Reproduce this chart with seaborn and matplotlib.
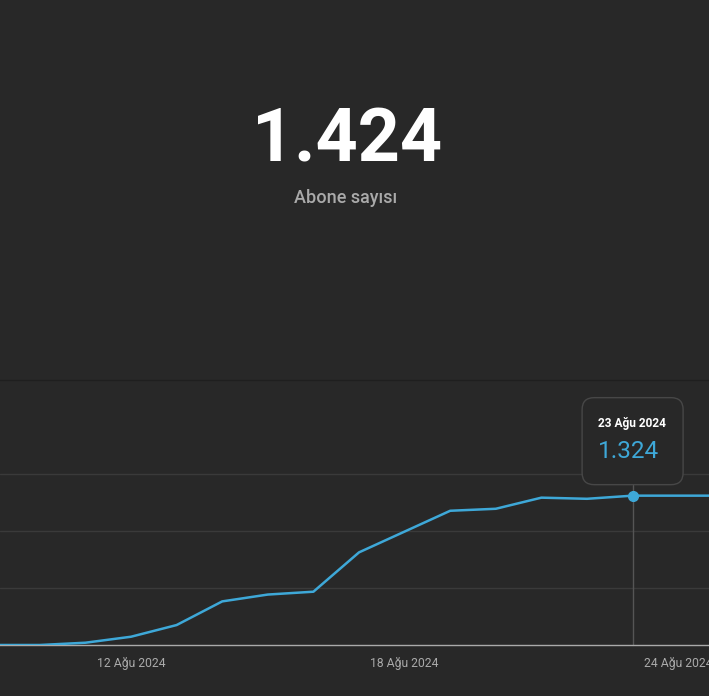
import pandas as pd
import matplotlib.pyplot as plt
import matplotlib.dates as mdates
from matplotlib.patches import FancyBboxPatch
import seaborn as sns

# Data: daily subscriber count
dates = pd.date_range("2024-08-09", "2024-08-25", freq="D")
subs = [800, 800, 808, 829, 870, 953, 977, 987, 1125, 1198,
        1271, 1278, 1317, 1313, 1324, 1324, 1324]
total_subs = "1.424"
label = "Abone sayısı"
tick_days = ["2024-08-12", "2024-08-18", "2024-08-24"]
hover_day = "2024-08-23"
months_tr = ["Oca", "Şub", "Mar", "Nis", "May", "Haz",
             "Tem", "Ağu", "Eyl", "Eki", "Kas", "Ara"]

df = pd.DataFrame({"date": dates, "subs": subs})

bg = "#282828"
blue = "#3ea8d8"
sns.set_theme(style="dark")
plt.rcParams["font.family"] = ["Roboto", "DejaVu Sans"]

W, H = 709, 696
fig = plt.figure(figsize=(W / 100, H / 100), dpi=100, facecolor=bg)

# big number on top
fig.text(0.49, 1 - 141 / H, total_subs, ha="center", va="center",
         fontsize=53, fontweight="bold", color="white")
fig.text(0.488, 1 - 198 / H, label, ha="center", va="center",
         fontsize=13, fontweight="medium", color="#aaaaaa")

# divider above chart
fig.add_artist(plt.Line2D([0, 1], [1 - 379.5 / H] * 2, color="#1f1f1f", lw=1))

# chart axes
ax_bottom = 1 - 645 / H
ax_top = 1 - 420 / H
ax = fig.add_axes([0, ax_bottom, 1, ax_top - ax_bottom])
ax.set_facecolor(bg)

sns.lineplot(data=df, x="date", y="subs", ax=ax, color=blue, lw=1.8, zorder=3)

x0 = mdates.date2num(pd.Timestamp("2024-08-09")) + 0.127
ax.set_xlim(x0, x0 + 709 / 45.6)
ax.set_ylim(800, 800 + 225 * 200 / 57)

ax.set_yticks([1000, 1200, 1400])
ax.yaxis.grid(True, color="#3a3a3a", lw=1)
ax.xaxis.grid(False)
ax.tick_params(axis="y", left=False, labelleft=False)

ticks = pd.to_datetime(tick_days)
ax.set_xticks(ticks)
ax.set_xticklabels([f"{d.day} {months_tr[d.month - 1]} {d.year}" for d in ticks],
                   color="#aaaaaa", fontsize=8.7)
ax.tick_params(axis="x", length=5, width=1, color="#444444", pad=4)

for s in ["left", "right", "top"]:
    ax.spines[s].set_visible(False)
ax.spines["bottom"].set_color("#aaaaaa")
ax.spines["bottom"].set_linewidth(1)
ax.set_xlabel("")
ax.set_ylabel("")

# hover point and tooltip
hd = pd.Timestamp(hover_day)
hv = df.loc[df["date"] == hd, "subs"].iloc[0]

fig.canvas.draw()
px, py = ax.transData.transform((mdates.date2num(hd), hv))
box_w, box_h = 101, 87
box_bottom = py + 11
_, y_box = ax.transData.inverted().transform((px, box_bottom))
ax.plot([hd, hd], [800, y_box], color="#555555", lw=1, zorder=1, clip_on=False)
ax.plot([hd], [hv], "o", color=blue, ms=7, zorder=5, clip_on=False)

box = FancyBboxPatch((px - box_w / 2, box_bottom), box_w, box_h,
                     boxstyle="round,pad=0,rounding_size=12",
                     transform=None, facecolor=bg, edgecolor="#474747", lw=1)
fig.add_artist(box)
left = px - box_w / 2 + 16
fig.text(left / W, (box_bottom + box_h - 26) / H,
         f"{hd.day} {months_tr[hd.month - 1]} {hd.year}",
         ha="left", va="center", fontsize=8.6, fontweight="bold", color="white")
fig.text(left / W, (box_bottom + box_h - 54) / H, f"{hv / 1000:.3f}",
         ha="left", va="center", fontsize=17.5, color=blue)

fig.savefig("out.png", dpi=100, facecolor=bg)
